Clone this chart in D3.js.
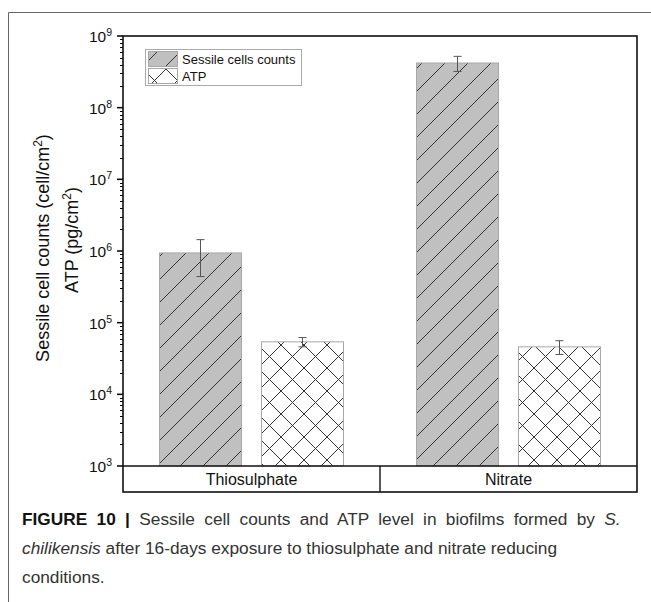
<!DOCTYPE html>
<html>
<head>
<meta charset="utf-8">
<script src="https://cdn.jsdelivr.net/npm/d3@7"></script>
<style>
  body { margin: 0; background: #fff; }
  svg { display: block; font-family: "Liberation Sans", Arial, sans-serif; }
</style>
</head>
<body>
<svg id="chart"></svg>
<script>
const width = 651;
const height = 602;

// data
const categories = ['Thiosulphate', 'Nitrate'];
const seriesNames = ['Sessile cells counts', 'ATP'];
const sessileValues = [9.4e5, 4.2e8];
const sessileErrors = [5.0e5, 1.0e8];
const atpValues = [5.4e4, 4.6e4];
const atpErrors = [8.0e3, 1.0e4];
const tickExponents = [3, 4, 5, 6, 7, 8, 9];

const plot = { left: 123, right: 637, top: 36, bottom: 466, labelBottom: 492 };

const svg = d3.select('#chart')
              .attr('width', width)
              .attr('height', height);

// figure frame (top and left rules)
svg.append('path')
   .attr('d', `M8.5,${height} V12.5 H${width}`)
   .attr('fill', 'none')
   .attr('stroke', '#666')
   .attr('stroke-width', 1);

// hatch patterns
const defs = svg.append('defs');
const step = 23;
const slash = defs.append('pattern')
                  .attr('id', 'slash')
                  .attr('patternUnits', 'userSpaceOnUse')
                  .attr('width', step)
                  .attr('height', step)
                  .attr('x', 2);
slash.append('rect').attr('width', step).attr('height', step).attr('fill', '#c0c0c0');
slash.append('path')
     .attr('d', `M0,${step} L${step},0 M-2,2 L2,-2 M${step - 2},${step + 2} L${step + 2},${step - 2}`)
     .attr('stroke', '#333').attr('stroke-width', 1);

const cross = defs.append('pattern')
                  .attr('id', 'cross')
                  .attr('patternUnits', 'userSpaceOnUse')
                  .attr('width', step)
                  .attr('height', step)
                  .attr('x', 5);
cross.append('rect').attr('width', step).attr('height', step).attr('fill', '#fff');
cross.append('path')
     .attr('d', `M0,${step} L${step},0 M-2,2 L2,-2 M${step - 2},${step + 2} L${step + 2},${step - 2} M0,0 L${step},${step} M-2,${step - 2} L2,${step + 2} M${step - 2},-2 L${step + 2},2`)
     .attr('stroke', '#333').attr('stroke-width', 1);

// scales
const x = d3.scaleBand()
            .domain(categories)
            .range([plot.left, plot.right])
            .padding(0);

const xInner = d3.scaleBand()
                 .domain(seriesNames)
                 .range([0, x.bandwidth()])
                 .paddingInner(0.196)
                 .paddingOuter(0.358);

const y = d3.scaleLog()
            .domain([1e3, 1e9])
            .range([plot.bottom, plot.top]);

const fills = { 'Sessile cells counts': 'url(#slash)', 'ATP': 'url(#cross)' };

const rows = [];
categories.forEach((c, i) => {
  rows.push({ cat: c, series: seriesNames[0], value: sessileValues[i], err: sessileErrors[i] });
  rows.push({ cat: c, series: seriesNames[1], value: atpValues[i], err: atpErrors[i] });
});

// bars
svg.selectAll('rect.bar')
   .data(rows)
   .enter()
   .append('rect')
     .attr('class', 'bar')
     .attr('x', d => x(d.cat) + xInner(d.series))
     .attr('y', d => y(d.value))
     .attr('width', xInner.bandwidth())
     .attr('height', d => y(1e3) - y(d.value))
     .attr('fill', d => fills[d.series])
     .attr('stroke', '#a8a8a8')
     .attr('stroke-width', 1);

// error bars
const errG = svg.selectAll('g.err')
                .data(rows)
                .enter()
                .append('g')
                  .attr('class', 'err')
                  .attr('transform', d => `translate(${x(d.cat) + xInner(d.series) + xInner.bandwidth() / 2},0)`)
                  .attr('stroke', '#555')
                  .attr('stroke-width', 1);
errG.append('line')
    .attr('y1', d => y(d.value + d.err))
    .attr('y2', d => y(d.value - d.err));
errG.append('line')
    .attr('x1', -4).attr('x2', 4)
    .attr('y1', d => y(d.value + d.err))
    .attr('y2', d => y(d.value + d.err));
errG.append('line')
    .attr('x1', -4).attr('x2', 4)
    .attr('y1', d => y(d.value - d.err))
    .attr('y2', d => y(d.value - d.err));

// left axis with log minor ticks
const majors = tickExponents.map(e => Math.pow(10, e));
const minors = [];
tickExponents.slice(0, -1).forEach(e => {
  for (let k = 2; k <= 9; k++) minors.push(k * Math.pow(10, e));
});

svg.selectAll('line.minor')
   .data(minors)
   .enter()
   .append('line')
     .attr('x1', plot.left - 3)
     .attr('x2', plot.left)
     .attr('y1', d => Math.round(y(d)) + 0.5)
     .attr('y2', d => Math.round(y(d)) + 0.5)
     .attr('stroke', '#000')
     .attr('stroke-width', 1);

svg.selectAll('line.major')
   .data(majors)
   .enter()
   .append('line')
     .attr('x1', plot.left - 6)
     .attr('x2', plot.left)
     .attr('y1', d => y(d))
     .attr('y2', d => y(d))
     .attr('stroke', '#000')
     .attr('stroke-width', 1.5);

const tickText = svg.selectAll('text.tick')
                    .data(tickExponents)
                    .enter()
                    .append('text')
                      .attr('x', plot.left - 11)
                      .attr('y', e => y(Math.pow(10, e)) + 6)
                      .attr('text-anchor', 'end')
                      .attr('font-size', 15.5)
                      .attr('fill', '#111');
tickText.append('tspan').text('10');
tickText.append('tspan').attr('dy', -6).attr('font-size', 10.5).text(e => e);

// plot frame
svg.append('rect')
   .attr('x', plot.left)
   .attr('y', plot.top)
   .attr('width', plot.right - plot.left)
   .attr('height', plot.labelBottom - plot.top)
   .attr('fill', 'none')
   .attr('stroke', '#111')
   .attr('stroke-width', 1.6);

svg.append('line')
   .attr('x1', plot.left).attr('x2', plot.right)
   .attr('y1', plot.bottom).attr('y2', plot.bottom)
   .attr('stroke', '#111').attr('stroke-width', 1.6);

// category boxes
svg.selectAll('line.divider')
   .data(categories.slice(1))
   .enter()
   .append('line')
     .attr('x1', d => x(d)).attr('x2', d => x(d))
     .attr('y1', plot.bottom).attr('y2', plot.labelBottom)
     .attr('stroke', '#111').attr('stroke-width', 1.4);

svg.selectAll('text.cat')
   .data(categories)
   .enter()
   .append('text')
     .attr('x', d => x(d) + x.bandwidth() / 2)
     .attr('y', 485)
     .attr('text-anchor', 'middle')
     .attr('font-size', 16)
     .attr('fill', '#111')
     .text(d => d);

// y axis title, two lines
const t1 = svg.append('text')
              .attr('transform', 'translate(49,248) rotate(-90)')
              .attr('text-anchor', 'middle')
              .attr('font-size', 18)
              .attr('fill', '#111');
t1.append('tspan').text('Sessile cell counts (cell/cm');
t1.append('tspan').attr('dy', -7).attr('font-size', 12).text('2');
t1.append('tspan').attr('dy', 7).text(')');

const t2 = svg.append('text')
              .attr('transform', 'translate(78,240) rotate(-90)')
              .attr('text-anchor', 'middle')
              .attr('font-size', 18)
              .attr('fill', '#111');
t2.append('tspan').text('ATP (pg/cm');
t2.append('tspan').attr('dy', -7).attr('font-size', 12).text('2');
t2.append('tspan').attr('dy', 7).text(')');

// legend
const legend = svg.append('g');
legend.append('rect')
      .attr('x', 145.5).attr('y', 49.5)
      .attr('width', 156).attr('height', 36)
      .attr('fill', '#fff')
      .attr('stroke', '#aaa');
seriesNames.forEach((s, i) => {
  legend.append('rect')
        .attr('x', 148.5).attr('y', 51.5 + i * 17)
        .attr('width', 29).attr('height', 15)
        .attr('fill', fills[s])
        .attr('stroke', '#a8a8a8');
  legend.append('text')
        .attr('x', 182).attr('y', 63.5 + i * 17)
        .attr('font-size', 13)
        .attr('fill', '#111')
        .text(s);
});

// caption
const caption = svg.append('g')
                   .attr('font-size', 17.3)
                   .attr('fill', '#333');
const c1 = caption.append('text').attr('x', 22).attr('y', 525).attr('word-spacing', 4.5);
c1.append('tspan').attr('font-weight', 'bold').attr('fill', '#111').text('FIGURE 10 | ');
c1.append('tspan').text('Sessile cell counts and ATP level in biofilms formed by ');
c1.append('tspan').attr('font-style', 'italic').text('S.');
const c2 = caption.append('text').attr('x', 22).attr('y', 554);
c2.append('tspan').attr('font-style', 'italic').text('chilikensis');
c2.append('tspan').text(' after 16-days exposure to thiosulphate and nitrate reducing');
caption.append('text').attr('x', 22).attr('y', 583).text('conditions.');
</script>
</body>
</html>
